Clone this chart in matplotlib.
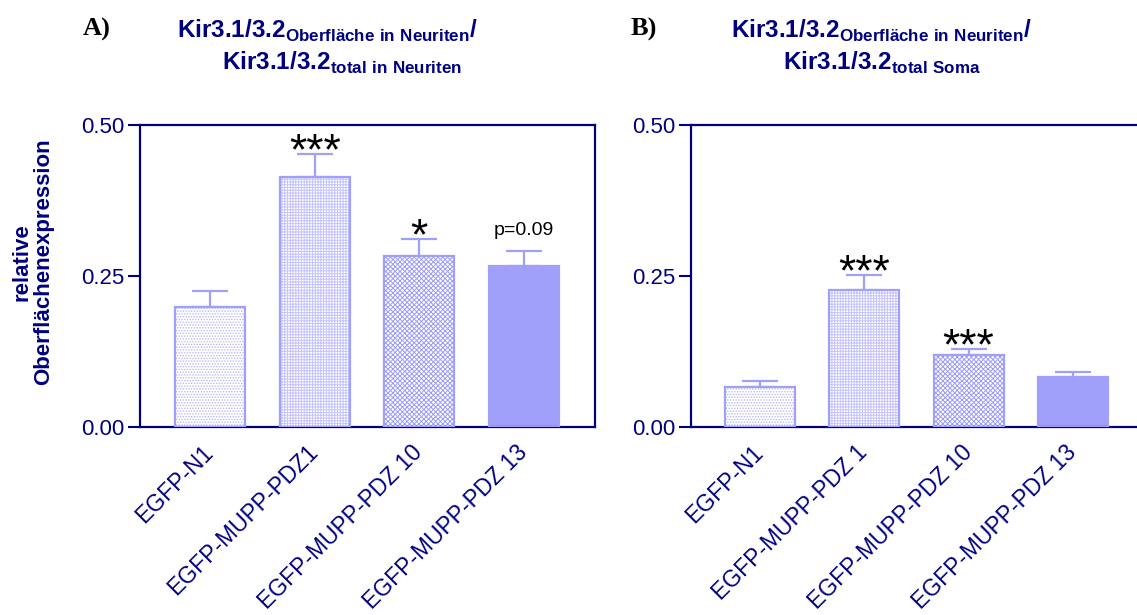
import matplotlib
matplotlib.use('Agg')
import matplotlib.pyplot as plt
import matplotlib.transforms as mtransforms
import numpy as np

plt.rcParams['font.family'] = ['Liberation Sans', 'DejaVu Sans']
plt.rcParams['mathtext.fontset'] = 'custom'
plt.rcParams['mathtext.rm'] = 'Liberation Sans'
plt.rcParams['mathtext.bf'] = 'Liberation Sans:bold'
plt.rcParams['hatch.linewidth'] = 0.7

# data
labels_a = ['EGFP-N1', 'EGFP-MUPP-PDZ1', 'EGFP-MUPP-PDZ 10', 'EGFP-MUPP-PDZ 13']
labels_b = ['EGFP-N1', 'EGFP-MUPP-PDZ 1', 'EGFP-MUPP-PDZ 10', 'EGFP-MUPP-PDZ 13']
means_a = [0.198, 0.415, 0.284, 0.266]
sem_a = [0.027, 0.037, 0.028, 0.026]
sig_a = ['', '***', '*', 'p=0.09']
means_b = [0.066, 0.227, 0.119, 0.082]
sem_b = [0.009, 0.025, 0.010, 0.009]
sig_b = ['', '***', '***', '']
yticks = [0.0, 0.25, 0.5]

NAVY = '#000080'
EDGE = '#a0a0fb'
hatches = ['......', '++++++', 'xxxxxxx', None]
hatch_cols = ['#b8b8ff', '#c4c4ff', '#9c9cf8', EDGE]
faces = ['white', 'white', 'white', EDGE]

W, H = 1137, 615
fig = plt.figure(figsize=(W / 100, H / 100), dpi=100)
label_shift = mtransforms.ScaledTranslation(-0.06, 0.02, fig.dpi_scale_trans)


def draw_panel(rect, labels, means, sem, sig, xlim, right_spine=True):
    ax = fig.add_axes(rect)
    x = np.arange(len(means))
    for i in range(len(means)):
        ax.bar(x[i], means[i], width=0.67, color=faces[i], hatch=hatches[i],
               edgecolor=hatch_cols[i], linewidth=0, zorder=2)
        ax.bar(x[i], means[i], width=0.67, fill=False, edgecolor=EDGE,
               linewidth=1.6, zorder=3)
    ax.errorbar(x, means, yerr=[np.zeros(len(sem)), sem], fmt='none',
                ecolor=EDGE, elinewidth=1.6, capsize=13, capthick=1.6, zorder=1)
    for i, s in enumerate(sig):
        if not s:
            continue
        top = means[i] + sem[i]
        if s.startswith('p'):
            ax.annotate(s, (x[i], top), xytext=(0, 11), textcoords='offset points',
                        ha='center', va='baseline', fontsize=14, color='black')
        else:
            ax.annotate(s, (x[i], top), xytext=(0, -7.5), textcoords='offset points',
                        ha='center', va='baseline', fontsize=32, color='black')
    ax.set_xlim(*xlim)
    ax.set_ylim(0, 0.5)
    ax.set_yticks(yticks)
    ax.set_yticklabels(['%.2f' % v for v in yticks])
    ax.set_xticks(x)
    ax.set_xticklabels(labels, rotation=45, ha='right', va='center',
                       rotation_mode='anchor')
    for lab in ax.get_xticklabels():
        lab.set_transform(lab.get_transform() + label_shift)
    ax.tick_params(axis='y', length=9, width=1.5, color=NAVY, labelcolor=NAVY,
                   labelsize=16, pad=2)
    ax.tick_params(axis='x', length=0, labelcolor=NAVY, labelsize=16.5, pad=16)
    for side in ['left', 'top', 'bottom', 'right']:
        ax.spines[side].set_color(NAVY)
        ax.spines[side].set_linewidth(1.6)
    ax.spines['right'].set_visible(right_spine)
    return ax


bottom = (H - 426.7) / H
height = (426.7 - 125.3) / H
draw_panel([140 / W, bottom, (595 - 140) / W, height],
           labels_a, means_a, sem_a, sig_a, (-0.67, 3.68))
draw_panel([690.7 / W, bottom, (1140 - 690.7) / W, height],
           labels_b, means_b, sem_b, sig_b, (-0.66, 3.64), right_spine=False)

# titles
t1 = r'$\mathbf{Kir3.1/3.2}_{\mathbf{Oberfläche\ in\ Neuriten}}\mathbf{/}$'
fig.text(327 / W, 1 - 38 / H, t1, ha='center', va='baseline', fontsize=17.5, color=NAVY)
fig.text(342 / W, 1 - 70 / H, r'$\mathbf{Kir3.1/3.2}_{\mathbf{total\ in\ Neuriten}}$',
         ha='center', va='baseline', fontsize=17.5, color=NAVY)
fig.text(881 / W, 1 - 38 / H, t1, ha='center', va='baseline', fontsize=17.5, color=NAVY)
fig.text(882 / W, 1 - 70 / H, r'$\mathbf{Kir3.1/3.2}_{\mathbf{total\ Soma}}$',
         ha='center', va='baseline', fontsize=17.5, color=NAVY)

fig.text(97 / W, 1 - 29 / H, 'A)', ha='center', va='center', fontsize=19,
         fontweight='bold', family='Liberation Serif', color='black')
fig.text(644 / W, 1 - 29 / H, 'B)', ha='center', va='center', fontsize=19,
         fontweight='bold', family='Liberation Serif', color='black')

fig.text(33 / W, 1 - 262 / H, 'relative\nOberflächenexpression', rotation=90,
         ha='center', va='center', multialignment='center', fontsize=16,
         fontweight='bold', color=NAVY, linespacing=1.05)

fig.savefig('out.png', dpi=100)
